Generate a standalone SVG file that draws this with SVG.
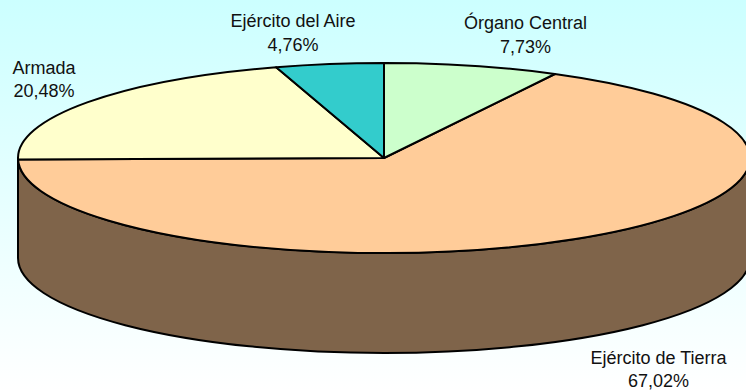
<svg xmlns="http://www.w3.org/2000/svg" width="746" height="390" viewBox="0 0 746 390">
  <defs>
    <linearGradient id="bg" x1="0" y1="0" x2="0" y2="1">
      <stop offset="0" stop-color="#CCFFFF"/>
      <stop offset="1" stop-color="#FFFFFF"/>
    </linearGradient>
  </defs>
  <style>
    .edge { stroke: #000; stroke-width: 2; stroke-linejoin: round; }
    .lbl { font-family: "Liberation Sans", Arial, sans-serif; font-size: 18px; fill: #111; text-anchor: middle; }
  </style>
  <rect x="0" y="0" width="746" height="390" fill="url(#bg)"/>
  <g id="side">
    <path class="edge" fill="#7F644A" d="M18,158 L18,258 A366,95 0 0,0 750,258 L750,158 A366,95 0 0,1 18,158 Z"/>
  </g>
  <g id="tierra">
    <path class="edge" fill="#FFCC99" d="M384,158 L554.86,73.99 A366,95 0 1,1 18.04,159.43 Z"/>
    <text class="lbl" x="658.5" y="364">Ejército de Tierra</text>
    <text class="lbl" x="658.5" y="387">67,02%</text>
  </g>
  <g id="armada">
    <path class="edge" fill="#FFFFCC" d="M384,158 L18.04,159.43 A366,95 0 0,1 276.15,67.22 Z"/>
    <text class="lbl" x="44" y="74">Armada</text>
    <text class="lbl" x="44" y="97">20,48%</text>
  </g>
  <g id="aire">
    <path class="edge" fill="#33CCCC" d="M384,158 L276.15,67.22 A366,95 0 0,1 384,63 Z"/>
    <text class="lbl" x="293" y="27">Ejército del Aire</text>
    <text class="lbl" x="293" y="51">4,76%</text>
  </g>
  <g id="organo">
    <path class="edge" fill="#CCFFCC" d="M384,158 L384,63 A366,95 0 0,1 554.86,73.99 Z"/>
    <text class="lbl" x="525.5" y="29">Órgano Central</text>
    <text class="lbl" x="525.5" y="53">7,73%</text>
  </g>
</svg>
